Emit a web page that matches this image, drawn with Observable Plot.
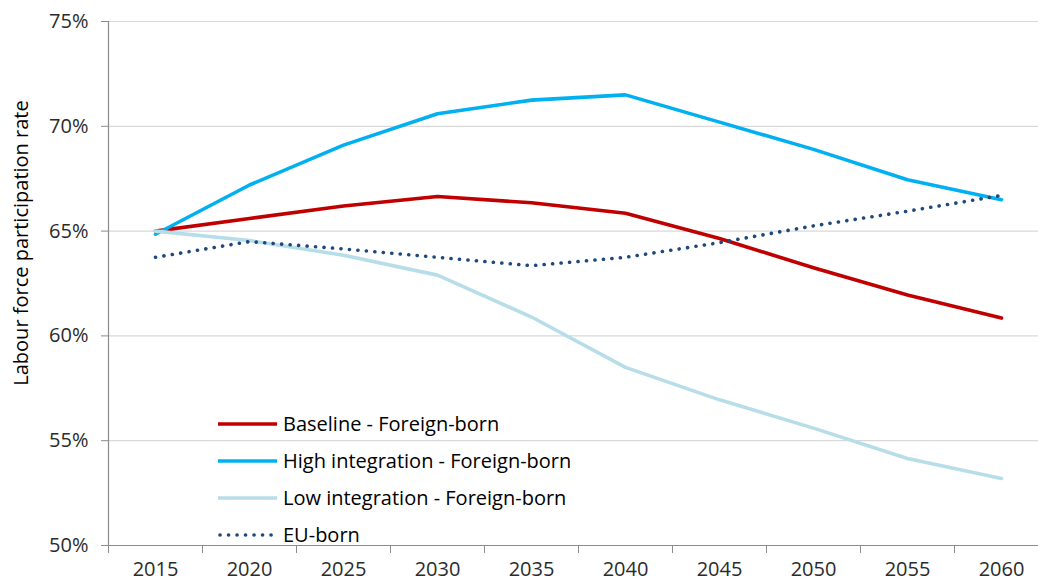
<!DOCTYPE html>
<html>
<head>
<meta charset="utf-8">
<script src="https://cdn.jsdelivr.net/npm/d3@7"></script>
<script src="https://cdn.jsdelivr.net/npm/@observablehq/plot@0.6"></script>
<style>
  html, body { margin: 0; padding: 0; background: #fff; overflow: hidden; }
  #wrap { position: relative; width: 1038px; height: 584px; font-family: "Open Sans", Lato, sans-serif; }
  #ylabel { position: absolute; left: 20px; top: 243px; transform: translate(-50%, -50%) rotate(-90deg); white-space: nowrap; font-size: 20px; color: #000; }
  #legend { position: absolute; left: 218px; top: 405px; font-size: 20px; color: #000; }
  #legend .row { display: flex; align-items: center; height: 37px; }
  #legend svg { margin-right: 5px; }
</style>
</head>
<body>
<div id="wrap">
  <div id="chart"></div>
  <div id="ylabel"></div>
  <div id="legend"></div>
</div>
<script>
const years = [2015, 2020, 2025, 2030, 2035, 2040, 2045, 2050, 2055, 2060];
const baseline = [65.0, 65.6, 66.2, 66.65, 66.35, 65.85, 64.65, 63.25, 61.95, 60.85];
const highIntegration = [64.85, 67.2, 69.1, 70.6, 71.25, 71.5, 70.2, 68.9, 67.45, 66.5];
const lowIntegration = [65.0, 64.55, 63.85, 62.9, 60.9, 58.5, 56.95, 55.6, 54.15, 53.2];
const euBorn = [63.75, 64.5, 64.15, 63.75, 63.35, 63.75, 64.45, 65.25, 65.95, 66.7];
const seriesNames = ["Baseline - Foreign-born", "High integration - Foreign-born", "Low integration - Foreign-born", "EU-born"];
const seriesColors = ["#C00000", "#00B0F0", "#B7DEE8", "#1F497D"];
const yTicks = [50, 55, 60, 65, 70, 75];
const yLabel = "Labour force participation rate";

const seriesValues = [baseline, highIntegration, lowIntegration, euBorn];
const rows = seriesValues.flatMap((vals, i) => vals.map((v, j) => ({year: years[j], value: v, series: seriesNames[i]})));
const boundaries = d3.range(years.length + 1).map(i => years[0] - 2.5 + i * 5);

const solid = rows.filter(d => d.series !== "EU-born");
const dotted = rows.filter(d => d.series === "EU-born");

const chart = Plot.plot({
  width: 1038,
  height: 584,
  marginLeft: 108,
  marginTop: 21,
  marginBottom: 39,
  marginRight: 0,
  style: {fontFamily: "'Open Sans', Lato, sans-serif", fontSize: "20px", color: "#2b2b2b", background: "white"},
  x: {domain: [boundaries[0], boundaries[boundaries.length - 1]], range: [108, 1048]},
  y: {domain: [50, 75], range: [545, 21]},
  color: {domain: seriesNames, range: seriesColors},
  marks: [
    Plot.ruleY(yTicks.filter(t => t > 50), {stroke: "#d9d9d9", strokeWidth: 1.2}),
    Plot.ruleY([50], {stroke: "#8c8c8c", strokeWidth: 1.2}),
    Plot.ruleX([boundaries[0]], {y1: 50, y2: 75, stroke: "#8c8c8c", strokeWidth: 1.2}),
    Plot.axisY({ticks: yTicks, tickSize: 7, tickPadding: 13, tickFormat: d => d + "%", label: null, stroke: "#8c8c8c", fill: "#2b2b2b"}),
    Plot.axisX({ticks: boundaries, tickSize: 8, tickFormat: () => "", label: null, stroke: "#8c8c8c"}),
    Plot.axisX({ticks: years, tickSize: 0, tickPadding: 16, tickFormat: d => String(d), label: null, fill: "#2b2b2b"}),
    Plot.line(solid, {x: "year", y: "value", z: "series", stroke: "series", strokeWidth: 3.6, strokeLinejoin: "round"}),
    Plot.line(dotted, {x: "year", y: "value", stroke: "series", strokeWidth: 3.6, strokeDasharray: "0.1 8.4", strokeLinecap: "round"})
  ]
});
document.getElementById("chart").appendChild(chart);
document.getElementById("ylabel").textContent = yLabel;

const legend = document.getElementById("legend");
seriesNames.forEach((name, i) => {
  const row = document.createElement("div");
  row.className = "row";
  const dash = name === "EU-born" ? 'stroke-dasharray="0.1 8.4" stroke-linecap="round"' : '';
  const x1 = name === "EU-born" ? 2 : 0, x2 = name === "EU-born" ? 57 : 59;
  row.innerHTML = `<svg width="60" height="10"><line x1="${x1}" x2="${x2}" y1="5" y2="5" stroke="${seriesColors[i]}" stroke-width="3.6" ${dash}/></svg><span>${name}</span>`;
  legend.appendChild(row);
});
</script>
</body>
</html>
